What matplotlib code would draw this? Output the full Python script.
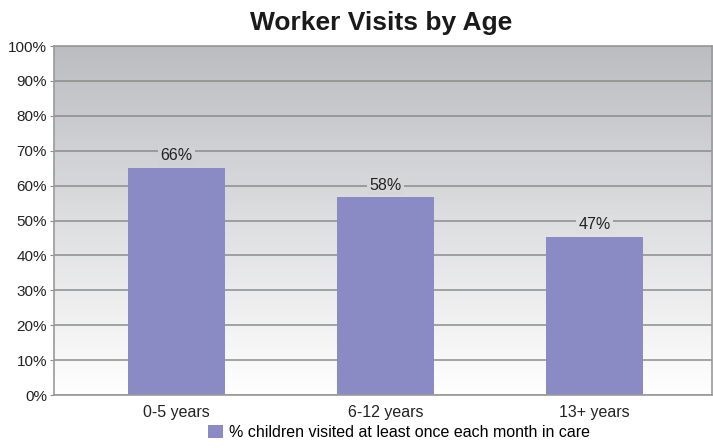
import numpy as np
import matplotlib
matplotlib.use("Agg")
import matplotlib.pyplot as plt

plt.rcParams['font.family'] = ['Liberation Sans', 'DejaVu Sans']

categories = ['0-5 years', '6-12 years', '13+ years']
# bar heights as drawn in the picture (labels printed separately)
values = [65.0, 56.6, 45.3]
labels = ['66%', '58%', '47%']
series_name = '% children visited at least once each month in care'

bar_color = '#8a8bc4'
top_rgb = np.array([188, 189, 193]) / 255
bot_rgb = np.array([255, 255, 255]) / 255


def bg_at(frac):
    # frac: 0 bottom, 1 top
    return tuple(bot_rgb + (top_rgb - bot_rgb) * frac)


fig = plt.figure(figsize=(7.13, 4.48), dpi=100)
ax = fig.add_axes([0.0757, 0.1183, 0.9229, 0.779])

# gradient background
grad = np.linspace(0, 1, 256).reshape(-1, 1)
img = np.array([[bg_at(g[0])] for g in grad])
ax.imshow(img, extent=[0, 1, 0, 1], transform=ax.transAxes, origin='lower',
          aspect='auto', zorder=0)

x = np.arange(len(categories))
ax.set_xlim(-0.586, 2.562)
ax.set_ylim(0, 100)
ax.yaxis.grid(True, color='#8c8c8c', linewidth=1.1, zorder=1)
ax.set_axisbelow(True)
bars = ax.bar(x, values, width=0.464, color=bar_color, zorder=2, label=series_name)

for xi, v, lab in zip(x, values, labels):
    ax.annotate(lab, (xi, v), xytext=(0, 3.5), textcoords='offset points',
                ha='center', va='bottom', fontsize=11.5, color='#222222',
                bbox=dict(boxstyle='square,pad=0.15', fc=bg_at((v + 5) / 100), ec='none'),
                zorder=3)

ax.set_xticks(x)
ax.set_xticklabels(categories, fontsize=11.5, color='#222222')
ax.set_yticks(range(0, 101, 10))
ax.set_yticklabels([f'{t}%' for t in range(0, 101, 10)], fontsize=11, color='#222222')
ax.tick_params(axis='y', length=3, color='#8c8c8c', pad=2)
ax.tick_params(axis='x', length=0, pad=7)
for s in ax.spines.values():
    s.set_color('#9a9a9a')
    s.set_linewidth(1.2)

fig.text(0.535, 0.948, 'Worker Visits by Age', ha='center', va='center',
         fontsize=19, fontweight='bold', color='#1a1a1a')

fig.legend(handles=[bars], labels=[series_name], loc='lower center',
           bbox_to_anchor=(0.56, -0.015), frameon=False, fontsize=11.5,
           handlelength=0.9, handleheight=0.9, handletextpad=0.4)

fig.savefig('out.png', dpi=100)
